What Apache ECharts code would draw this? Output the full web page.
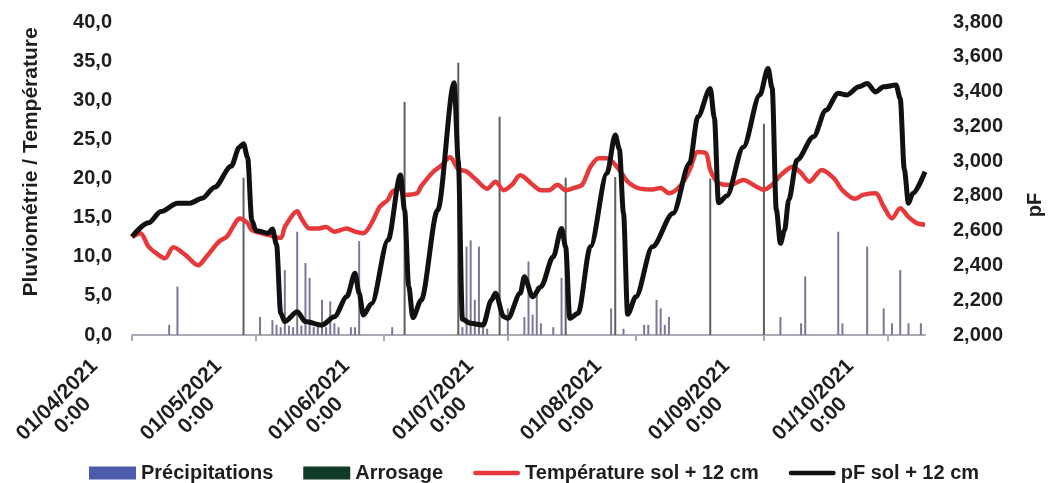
<!DOCTYPE html>
<html><head><meta charset="utf-8">
<script src="https://cdn.jsdelivr.net/npm/echarts@6/dist/echarts.min.js"></script>
<style>html,body{margin:0;padding:0;background:#fff}#c{width:1049px;height:483px}</style>
</head><body><div id="c"></div>
<script>
// ---- data ----
const startDate = '2021-04-01';
const dayCount = 193; // 01/04/2021 .. 10/10/2021
const leftTicks = [0, 5, 10, 15, 20, 25, 30, 35, 40];
const rightTicks = [2.0, 2.2, 2.4, 2.6, 2.8, 3.0, 3.2, 3.4, 3.6, 3.8];

const precipDay = [9, 11, 31, 34, 35, 36, 37, 38, 39, 40, 41, 42, 43, 44, 45, 46, 47, 48, 49, 50, 53, 54, 55, 63, 80, 81, 82, 83, 84, 85, 86, 91, 95, 96, 97, 98, 99, 102, 104, 116, 119, 124, 125, 127, 128, 129, 130, 157, 162, 163, 171, 172, 178, 182, 184, 186, 188, 191];
const precipVal = [1.3, 6.2, 2.3, 1.9, 1.3, 1.0, 8.3, 1.2, 1.0, 13.2, 1.2, 9.2, 7.3, 1.0, 1.5, 4.5, 1.0, 4.3, 1.5, 1.0, 1.0, 1.0, 12.0, 1.0, 1.0, 11.3, 12.1, 4.5, 11.3, 1.0, 0.8, 3.4, 2.3, 9.4, 2.6, 6.2, 1.5, 1.0, 7.3, 3.4, 0.8, 1.3, 1.3, 4.5, 3.4, 1.3, 2.3, 2.3, 1.5, 7.5, 13.2, 1.5, 11.3, 3.4, 1.5, 8.3, 1.5, 1.5];

const irrigDay = [27, 66, 79, 89, 105, 117, 140, 153];
const irrigVal = [20.1, 29.8, 34.8, 27.9, 20.1, 20.2, 20.0, 27.0];

const tempDay = [0, 2, 4, 6, 8, 10, 13, 16, 18, 21, 23, 25, 26, 28, 29, 33, 36, 37, 40, 41, 43, 45, 47, 49, 52, 54, 56, 58, 60, 62, 63, 65, 66, 69, 70, 73, 75, 77, 79, 81, 83, 86, 88, 90, 92, 94, 97, 99, 101, 103, 105, 107, 109, 111, 113, 115, 118, 120, 123, 126, 128, 130, 133, 135, 137, 139, 140, 142, 145, 148, 151, 153, 155, 157, 160, 162, 164, 167, 170, 172, 175, 177, 180, 182, 184, 186, 188, 190, 192];
const tempVal = [12.5, 13.0, 11.3, 10.4, 9.8, 11.2, 10.2, 8.9, 10.0, 11.9, 12.6, 14.3, 14.9, 14.3, 13.4, 12.8, 12.4, 13.8, 15.8, 14.9, 13.6, 13.6, 13.8, 13.2, 13.6, 13.2, 13.0, 14.3, 16.4, 17.3, 18.3, 18.7, 17.9, 18.1, 19.0, 20.9, 21.7, 22.7, 21.2, 20.9, 20.0, 18.7, 19.6, 18.5, 19.2, 20.4, 19.2, 18.5, 18.5, 19.2, 18.5, 18.8, 19.2, 21.5, 22.6, 22.6, 21.1, 19.6, 18.7, 18.6, 18.8, 18.1, 19.2, 21.1, 23.4, 23.2, 21.1, 19.4, 19.2, 19.8, 19.0, 18.6, 19.2, 20.4, 21.5, 20.7, 19.6, 21.1, 20.0, 18.5, 17.4, 17.9, 18.1, 16.4, 14.9, 16.2, 15.1, 14.3, 14.1];

const pfDay = [0, 4, 7, 11, 14, 17, 20, 24, 26, 27, 28, 29, 30, 33, 34, 35, 36, 37, 40, 42, 46, 49, 52, 54, 55, 56, 58, 62, 65, 66, 67, 68, 70, 74, 78, 79, 80, 82, 85, 87, 88, 90, 91, 94, 95, 97, 99, 102, 104, 105, 106, 108, 111, 115, 117, 118, 119, 120, 122, 126, 131, 135, 137, 140, 141, 142, 144, 148, 152, 154, 155, 156, 157, 158, 159, 161, 165, 168, 171, 173, 176, 178, 180, 182, 185, 186, 187, 188, 189, 192];
const pfVal = [2.565, 2.645, 2.71, 2.757, 2.758, 2.786, 2.85, 2.97, 3.08, 3.10, 3.02, 2.66, 2.60, 2.585, 2.61, 2.52, 2.125, 2.077, 2.134, 2.077, 2.057, 2.105, 2.22, 2.355, 2.24, 2.115, 2.18, 2.546, 2.92, 2.72, 2.28, 2.10, 2.20, 2.718, 3.45, 3.00, 2.09, 2.067, 2.057, 2.20, 2.24, 2.105, 2.096, 2.24, 2.335, 2.22, 2.278, 2.45, 2.613, 2.507, 2.096, 2.125, 2.507, 2.93, 3.15, 3.07, 2.70, 2.12, 2.22, 2.507, 2.70, 2.987, 3.255, 3.418, 3.25, 2.76, 2.80, 3.08, 3.38, 3.533, 3.42, 2.72, 2.527, 2.603, 2.776, 3.006, 3.14, 3.293, 3.39, 3.38, 3.427, 3.447, 3.398, 3.427, 3.437, 3.36, 2.95, 2.757, 2.814, 2.939];

const seriesNames = ['Précipitations', 'Arrosage', 'Température sol + 12 cm', 'pF sol + 12 cm'];

// ---- build ----
const categories = [];
{
  const s = new Date(startDate + 'T00:00:00Z');
  for (let d = 0; d < dayCount; d++) {
    const t = new Date(s.getTime() + d * 86400000);
    categories.push(t.toISOString().slice(0, 10));
  }
}
const pairs = (xs, ys) => xs.map((x, i) => [x, ys[i]]);
const FONT = "'Liberation Sans', Arial, sans-serif";
const TXT = '#1e1e1e';
const RED = '#e5393b';
const BLACK = '#111111';
const LINE_ICON = 'path://M2.5,0H47.5A2.5,2.5,0,0,1,47.5,5H2.5A2.5,2.5,0,0,1,2.5,0Z';
const isMonthStart = (idx, val) => typeof val === 'string' && val.slice(8, 10) === '01';

const chart = echarts.init(document.getElementById('c'), null, {renderer: 'canvas'});
chart.setOption({
  animation: false,
  backgroundColor: '#ffffff',
  grid: {left: 132, right: 124, top: 22, bottom: 148, containLabel: false, outerBoundsMode: 'none'},
  legend: {
    left: 84, top: 458, itemWidth: 47, itemHeight: 13, itemGap: 30,
    textStyle: {fontFamily: FONT, fontWeight: 'bold', fontSize: 20, color: TXT},
    data: [
      {name: seriesNames[0], icon: 'rect', itemStyle: {color: '#4d5bab'}},
      {name: seriesNames[1], icon: 'rect', itemStyle: {color: '#0f3b28'}},
      {name: seriesNames[2], icon: LINE_ICON, itemStyle: {color: RED}},
      {name: seriesNames[3], icon: LINE_ICON, itemStyle: {color: BLACK}}
    ]
  },
  xAxis: {
    type: 'category', data: categories, boundaryGap: false,
    axisLine: {lineStyle: {color: '#a9a9b3', width: 2}},
    axisTick: {show: true, interval: isMonthStart, length: 6, lineStyle: {color: '#a9a9b3', width: 2}},
    splitLine: {show: false},
    axisLabel: {
      interval: isMonthStart, rotate: 45, margin: 6, padding: [0, 42, 0, 0],
      formatter: v => '{a|01/' + v.slice(5, 7) + '/' + v.slice(0, 4) + '}\n{a|0:00}',
      rich: {a: {align: 'center', fontFamily: FONT, fontWeight: 'bold', fontSize: 21, lineHeight: 22, color: TXT}}
    }
  },
  yAxis: [
    {
      type: 'value', min: leftTicks[0], max: leftTicks[leftTicks.length - 1], interval: 5,
      name: 'Pluviométrie / Température', nameLocation: 'middle', nameRotate: 90, nameGap: 90,
      nameTextStyle: {fontFamily: FONT, fontWeight: 'bold', fontSize: 21, color: TXT, padding: [0, 0, 0, 33]},
      axisLine: {show: false}, axisTick: {show: false}, splitLine: {show: false},
      axisLabel: {margin: 20, fontFamily: FONT, fontWeight: 'bold', fontSize: 20, color: TXT,
        formatter: v => v.toFixed(1).replace('.', ',')}
    },
    {
      type: 'value', min: rightTicks[0], max: rightTicks[rightTicks.length - 1], interval: 0.2,
      name: 'pF', nameLocation: 'middle', nameRotate: 90, nameGap: 100,
      nameTextStyle: {fontFamily: FONT, fontWeight: 'bold', fontSize: 20, color: TXT, padding: [0, 53, 0, 0]},
      axisLine: {show: false}, axisTick: {show: false}, splitLine: {show: false},
      axisLabel: {margin: 28, fontFamily: FONT, fontWeight: 'bold', fontSize: 20, color: TXT,
        formatter: v => v.toFixed(3).replace('.', ',')}
    }
  ],
  series: [
    {name: seriesNames[0], type: 'bar', yAxisIndex: 0, barWidth: 2, barGap: '-100%',
      itemStyle: {color: '#7b7896'}, data: pairs(precipDay, precipVal)},
    {name: seriesNames[1], type: 'bar', yAxisIndex: 0, barWidth: 2, barGap: '-100%',
      itemStyle: {color: '#59625e'}, data: pairs(irrigDay, irrigVal)},
    {name: seriesNames[2], type: 'line', yAxisIndex: 0, smooth: 0.3, symbol: 'none', showSymbol: false,
      lineStyle: {color: RED, width: 4.5}, itemStyle: {color: RED}, data: pairs(tempDay, tempVal)},
    {name: seriesNames[3], type: 'line', yAxisIndex: 1, smooth: 0.3, smoothMonotone: 'x', symbol: 'none', showSymbol: false,
      lineStyle: {color: BLACK, width: 5}, itemStyle: {color: BLACK}, data: pairs(pfDay, pfVal)}
  ]
});
</script></body></html>
